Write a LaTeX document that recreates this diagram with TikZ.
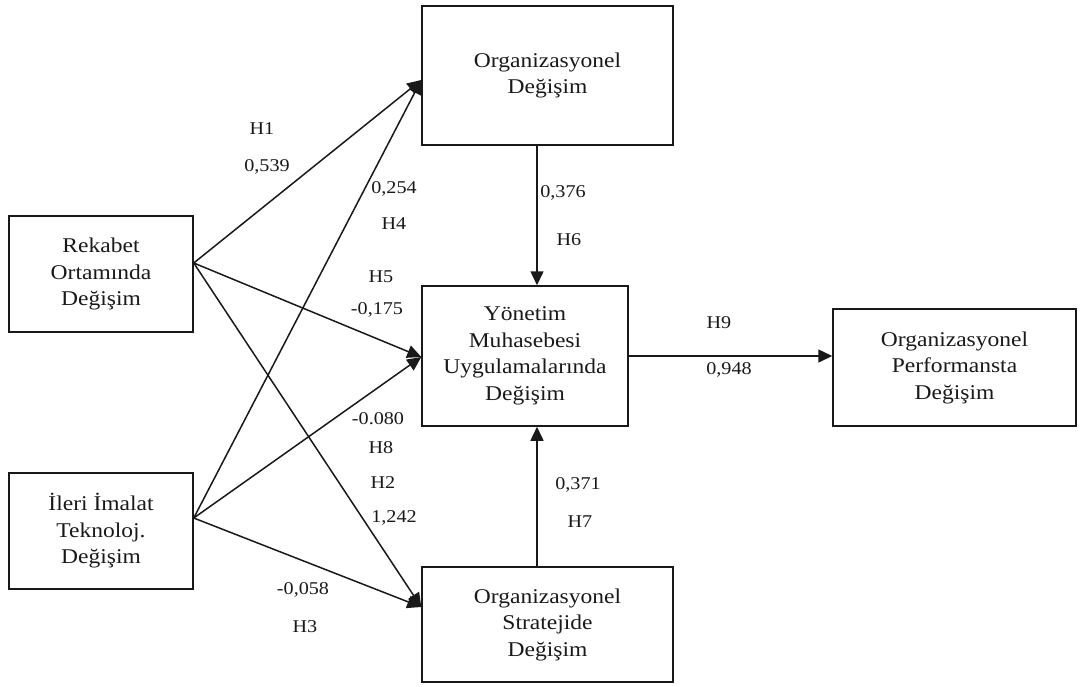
\documentclass[tikz,border=0pt]{standalone}
\usepackage{fontspec}
\setmainfont{Liberation Serif}[FakeStretch=1.12]
\usetikzlibrary{arrows.meta}
\begin{document}
\begin{tikzpicture}[x=1pt,y=-1pt,
  box/.style={draw=black!90, line width=1.5pt, align=center, inner sep=0pt,
    font=\fontsize{21}{26.5}\selectfont, text=black!90},
  lbl/.style={font=\fontsize{18}{20}\selectfont, inner sep=0pt, text=black!90},
  arr/.style={draw=black!90, line width=1.5pt, -{Triangle[length=14pt,width=13pt]}}]
\useasboundingbox (0,0) rectangle (1083,686);
% boxes
\node[box, minimum width=251pt, minimum height=139pt] (orgd) at (547.5,75.5) {Organizasyonel\\Değişim};
\node[box, minimum width=206pt, minimum height=140pt] (yon) at (525,356) {Yönetim\\Muhasebesi\\Uygulamalarında\\Değişim};
\node[box, minimum width=251pt, minimum height=115pt] (strat) at (547.5,624.5) {Organizasyonel\\Stratejide\\Değişim};
\node[box, minimum width=184pt, minimum height=116pt] (rek) at (101,274) {Rekabet\\Ortamında\\Değişim};
\node[box, minimum width=184pt, minimum height=116pt] (ileri) at (101,531) {İleri İmalat\\Teknoloj.\\Değişim};
\node[box, minimum width=243pt, minimum height=117pt] (perf) at (954.5,367.5) {Organizasyonel\\Performansta\\Değişim};
% anchor points
\coordinate (rs) at ([yshift=11pt]rek.east);
\coordinate (is) at ([yshift=13pt]ileri.east);
\coordinate (ot) at ([yshift=-4.5pt]orgd.west);
\coordinate (yt) at ([yshift=-1pt]yon.west);
\coordinate (st) at ([yshift=17.5pt]strat.west);
% connectors
\draw[arr] (rs) -- (ot);
\draw[arr] (rs) -- (yt);
\draw[arr] (rs) -- (st);
\draw[arr] (is) -- (ot);
\draw[arr] (is) -- (yt);
\draw[arr] (is) -- (st);
\draw[arr] ([xshift=-10.5pt]orgd.south) -- ([xshift=-10.5pt]orgd.south |- yon.north);
\draw[arr] ([xshift=-10.5pt]strat.north) -- ([xshift=-10.5pt]strat.north |- yon.south);
\draw[arr] (yon.east) -- (yon.east -| perf.west);
% labels
\node[lbl] (h1) at (262,129) {H1};
\node[lbl] (v1) at (267,167) {0,539};
\node[lbl] (v4) at (394,189) {0,254};
\node[lbl] (h4) at (394,224) {H4};
\node[lbl] (h5) at (381,277) {H5};
\node[lbl] (v5) at (377,310) {-0,175};
\node[lbl] (v8) at (378,419) {-0.080};
\node[lbl] (h8) at (381,448) {H8};
\node[lbl] (h2) at (383,483) {H2};
\node[lbl] (v2) at (394,518) {1,242};
\node[lbl] (v3) at (303,590) {-0,058};
\node[lbl] (h3) at (305,627) {H3};
\node[lbl] (v6) at (563,193) {0,376};
\node[lbl] (h6) at (569,240) {H6};
\node[lbl] (v7) at (578,485) {0,371};
\node[lbl] (h7) at (580,522) {H7};
\node[lbl] (h9) at (719,323) {H9};
\node[lbl] (v9) at (729,370) {0,948};
\end{tikzpicture}
\end{document}
